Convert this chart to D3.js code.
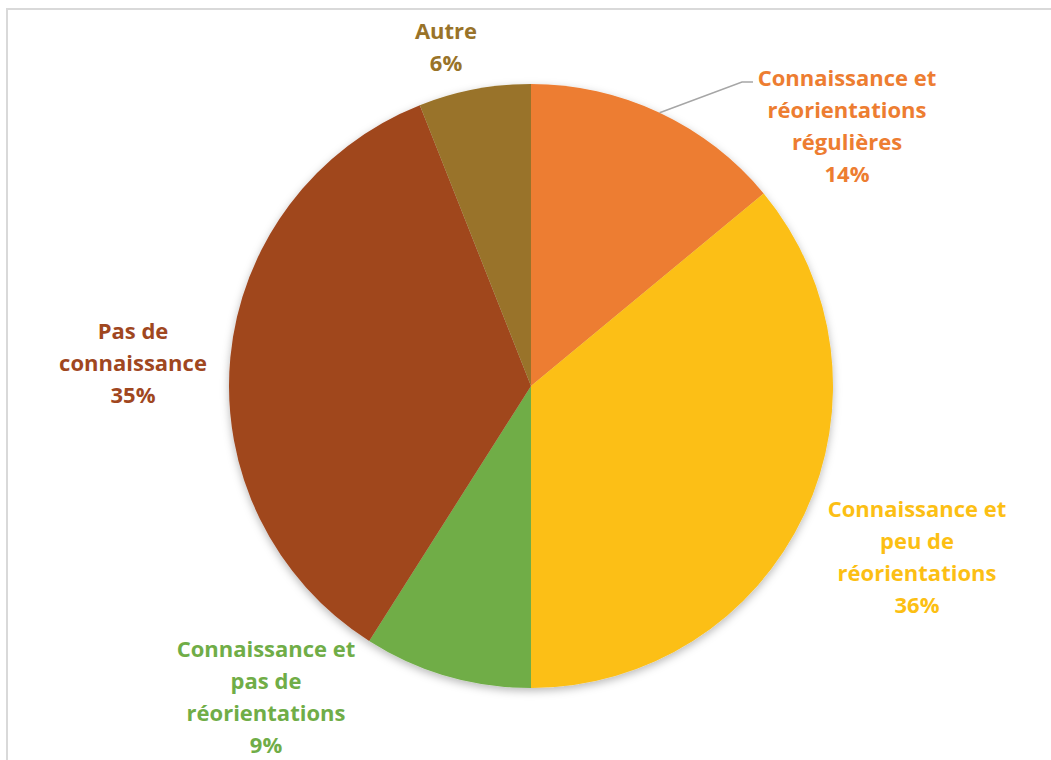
<!DOCTYPE html>
<html>
<head>
<meta charset="utf-8">
<script src="https://cdn.jsdelivr.net/npm/d3@7"></script>
<style>
  html, body { margin: 0; padding: 0; background: #ffffff; }
  svg { display: block; }
  .lbl { font-family: "Open Sans", Lato, sans-serif; font-weight: 700; font-size: 22px; }
</style>
</head>
<body>
<svg id="chart" width="1051" height="760"></svg>
<script>
// Category names (one entry per line of the label), shares in percent, slice colours
const categories = [
  ["Connaissance et", "réorientations", "régulières"],
  ["Connaissance et", "peu de", "réorientations"],
  ["Connaissance et", "pas de", "réorientations"],
  ["Pas de", "connaissance"],
  ["Autre"]
];
const shares = [14, 36, 9, 35, 6];
const colors = ["#ED7D31", "#FCBF14", "#70AD47", "#A0471F", "#997329"];

// Where each label block is centred (x, first-line y)
const labelAnchors = [
  [847, 77], [917, 508], [266, 648], [133, 330], [446, 30]
];

const W = 1051, H = 760;
const cx = 531, cy = 386, R = 302;
const lineH = 32;

const svg = d3.select("#chart");

// light frame round the chart area
svg.append("path")
  .attr("d", `M7,${H} L7,9 L${W},9`)
  .attr("fill", "none")
  .attr("stroke", "#d9d9d9")
  .attr("stroke-width", 2);

const defs = svg.append("defs");
const f = defs.append("filter").attr("id", "shadow")
  .attr("x", "-10%").attr("y", "-10%").attr("width", "120%").attr("height", "125%");
f.append("feDropShadow")
  .attr("dx", 0).attr("dy", 3).attr("stdDeviation", 4)
  .attr("flood-color", "#000").attr("flood-opacity", 0.28);

const data = shares.map((v, i) => ({ value: v, lines: categories[i], color: colors[i], anchor: labelAnchors[i] }));

const pie = d3.pie().value(d => d.value).sort(null);
const arc = d3.arc().innerRadius(0).outerRadius(R);
const arcs = pie(data);

const g = svg.append("g").attr("transform", `translate(${cx},${cy})`);
const slices = g.append("g").attr("filter", "url(#shadow)");
slices.selectAll("path")
  .data(arcs)
  .join("path")
  .attr("d", arc)
  .attr("fill", d => d.data.color);

// leader line for the first slice label, leaving the rim at the slice's mid-angle
const first = arcs[0];
const midAngle = (first.startAngle + first.endAngle) / 2;
const ex = cx + R * Math.sin(midAngle);
const ey = cy - R * Math.cos(midAngle);
svg.append("polyline")
  .attr("points", `${ex},${ey} ${742},${82} ${753},${82}`)
  .attr("fill", "none")
  .attr("stroke", "#a6a6a6")
  .attr("stroke-width", 1.5);

// labels: category lines followed by the percentage
const labels = svg.selectAll("text.lbl")
  .data(arcs)
  .join("text")
  .attr("class", "lbl")
  .attr("text-anchor", "middle")
  .attr("dominant-baseline", "central")
  .attr("fill", d => d.data.color);

labels.each(function(d) {
  const t = d3.select(this);
  const [ax, ay] = d.data.anchor;
  const lines = d.data.lines.concat([`${d.data.value}%`]);
  lines.forEach((s, i) => {
    t.append("tspan").attr("x", ax).attr("y", ay + i * lineH).text(s);
  });
});
</script>
</body>
</html>
